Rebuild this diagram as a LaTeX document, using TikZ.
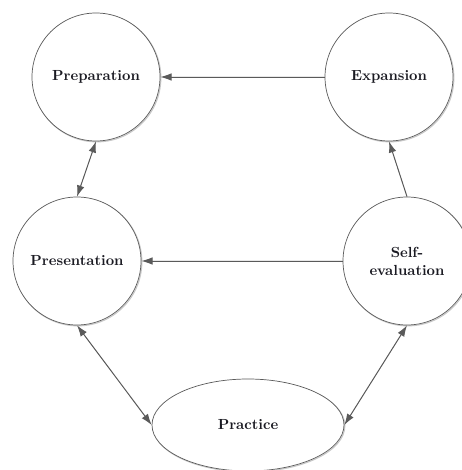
\documentclass[tikz,border=0pt]{standalone}
\usepackage{xcolor}
\usetikzlibrary{arrows.meta,positioning,shapes.geometric}
\definecolor{Edge}{HTML}{5A5A5A}
\definecolor{Shade}{HTML}{C8C8C8}
\definecolor{Arrow}{HTML}{454545}
\definecolor{Label}{HTML}{1A1A22}

\begin{document}
\begin{tikzpicture}[
    text=Label,
    stage/.style={
        circle,
        draw=Edge,
        line width=0.5pt,
        fill=white,
        minimum size=3.2cm,
        inner sep=0pt,
        align=center,
        font=\fontsize{10.4}{12.8}\selectfont\bfseries,
        preaction={draw=Shade, line width=0.8pt,
            transform canvas={shift={(0.6pt,-0.6pt)}}}
    },
    oval/.style={
        stage,
        ellipse,
        minimum width=4.8cm,
        minimum height=2.3cm
    },
    arrow/.style={
        -{Latex[length=2.8mm,width=1.9mm]},
        line width=0.7pt,
        draw=Edge,
        fill=Arrow
    },
    twoway/.style={
        {Latex[length=2.8mm,width=1.9mm]}-{Latex[length=2.8mm,width=1.9mm]},
        line width=0.7pt,
        draw=Edge,
        fill=Arrow
    }
]

% Canvas
\fill[white] (0,0) rectangle (11.55,11.75);
\useasboundingbox (0,0) rectangle (11.55,11.75);

% Stages
\node[stage] (prep) at (2.4,9.825) {Preparation};
\node[stage] (exp) at (9.725,9.825) {Expansion};
\node[stage] (pres) at (1.925,5.225) {Presentation};
\node[stage] (self) at (10.175,5.225) {Self-\\evaluation};
\node[oval] (prac) at (6.2,1.125) {Practice};

% Connections
\draw[arrow] (exp) -- (prep);
\draw[twoway] (prep.south) -- (pres.north);
\draw[arrow] (self.north) -- (exp.south);
\draw[arrow] (self) -- (pres);
\draw[twoway] (pres.south) -- (prac.west);
\draw[twoway] (self.south) -- (prac.east);

\end{tikzpicture}
\end{document}
